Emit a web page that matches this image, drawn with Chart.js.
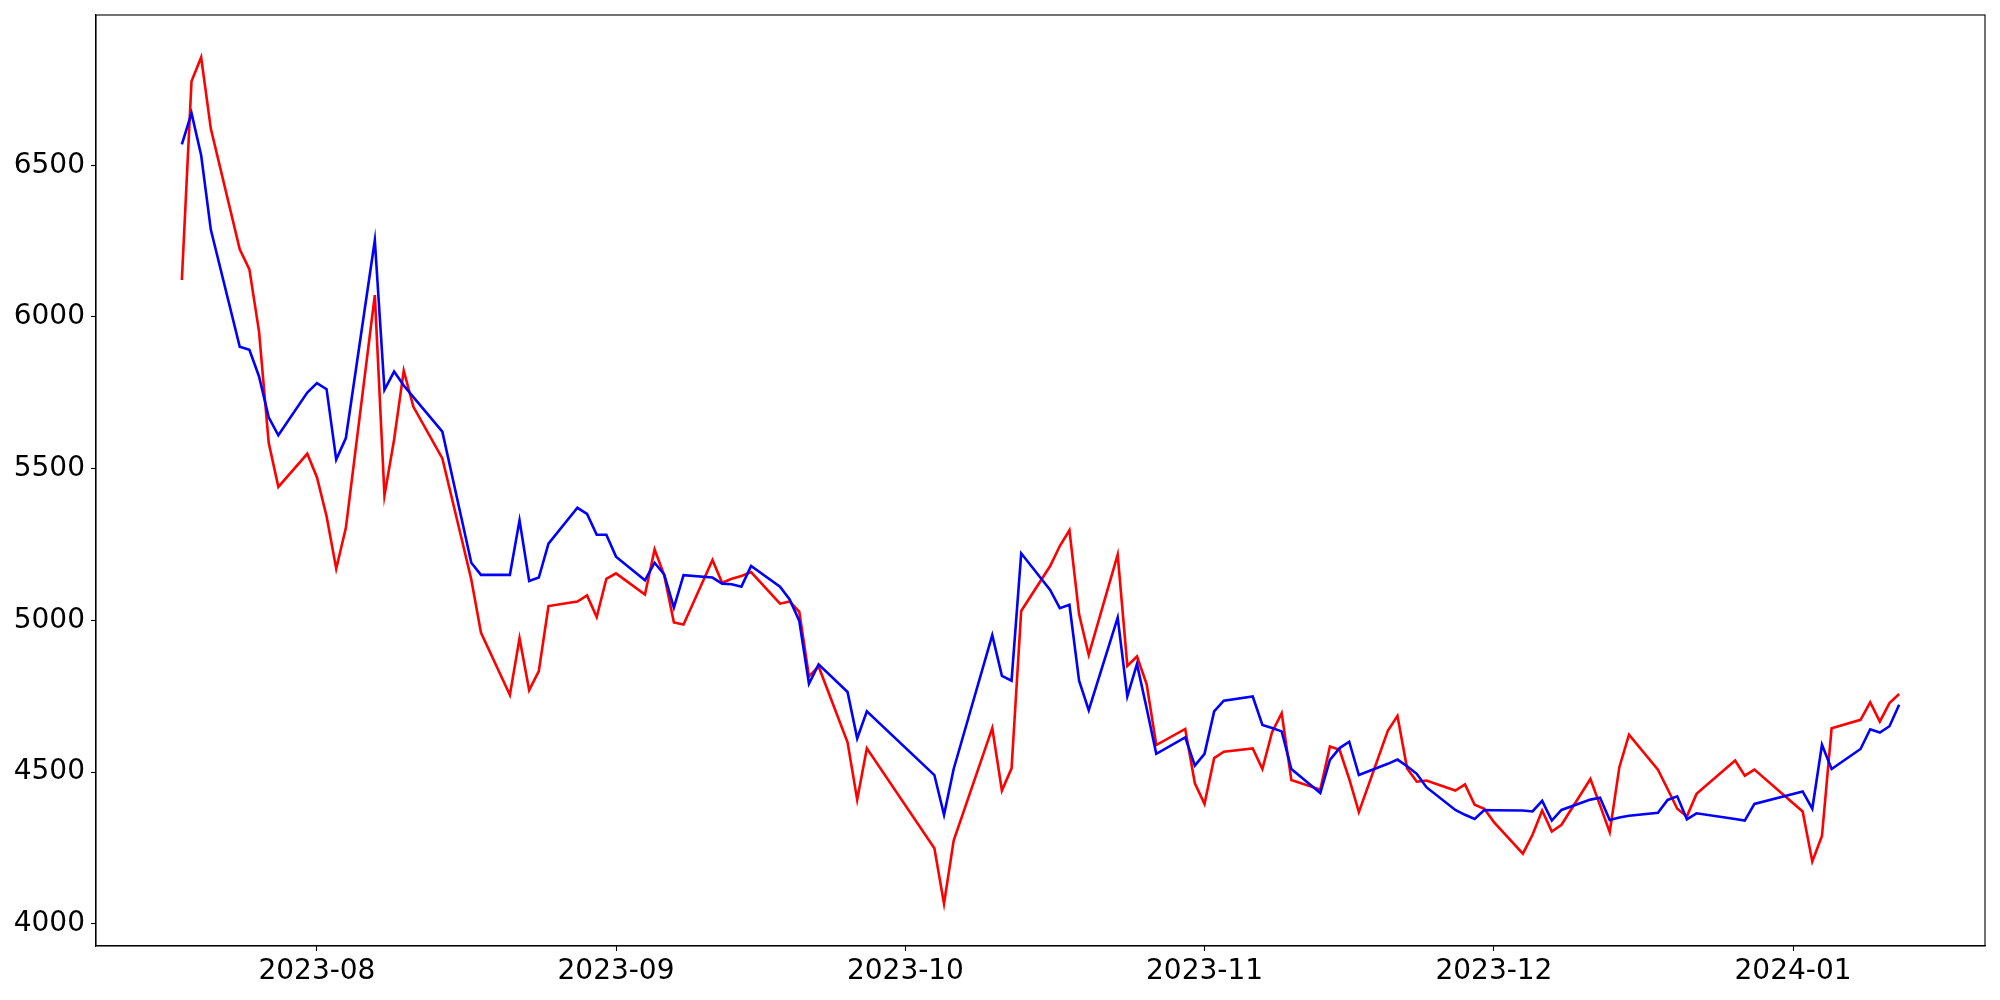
<!DOCTYPE html>
<html>
<head>
<meta charset="utf-8">
<script src="https://cdn.jsdelivr.net/npm/chart.js@4.4.0/dist/chart.umd.min.js"></script>
<style>
  body { margin: 0; background: #fff; }
  #wrap { width: 2000px; height: 1000px; }
</style>
</head>
<body>
<div id="wrap"><canvas id="myChart" width="2000" height="1000"></canvas></div>
<script>
// trading days (Korean market calendar)
const dates = [
  '2023-07-18','2023-07-19','2023-07-20','2023-07-21','2023-07-24','2023-07-25','2023-07-26','2023-07-27','2023-07-28','2023-07-31',
  '2023-08-01','2023-08-02','2023-08-03','2023-08-04','2023-08-07','2023-08-08','2023-08-09','2023-08-10','2023-08-11','2023-08-14',
  '2023-08-16','2023-08-17','2023-08-18','2023-08-21','2023-08-22','2023-08-23','2023-08-24','2023-08-25','2023-08-28','2023-08-29',
  '2023-08-30','2023-08-31','2023-09-01','2023-09-04','2023-09-05','2023-09-06','2023-09-07','2023-09-08','2023-09-11','2023-09-12',
  '2023-09-13','2023-09-14','2023-09-15','2023-09-18','2023-09-19','2023-09-20','2023-09-21','2023-09-22','2023-09-25','2023-09-26',
  '2023-09-27','2023-10-04','2023-10-05','2023-10-06','2023-10-10','2023-10-11','2023-10-12','2023-10-13','2023-10-16','2023-10-17',
  '2023-10-18','2023-10-19','2023-10-20','2023-10-23','2023-10-24','2023-10-25','2023-10-26','2023-10-27','2023-10-30','2023-10-31',
  '2023-11-01','2023-11-02','2023-11-03','2023-11-06','2023-11-07','2023-11-08','2023-11-09','2023-11-10','2023-11-13','2023-11-14',
  '2023-11-15','2023-11-16','2023-11-17','2023-11-20','2023-11-21','2023-11-22','2023-11-23','2023-11-24','2023-11-27','2023-11-28',
  '2023-11-29','2023-11-30','2023-12-01','2023-12-04','2023-12-05','2023-12-06','2023-12-07','2023-12-08','2023-12-11','2023-12-12',
  '2023-12-13','2023-12-14','2023-12-15','2023-12-18','2023-12-19','2023-12-20','2023-12-21','2023-12-22','2023-12-26','2023-12-27',
  '2023-12-28','2024-01-02','2024-01-03','2024-01-04','2024-01-05','2024-01-08','2024-01-09','2024-01-10','2024-01-11','2024-01-12'
];

const redValues = [
  6122, 6777, 6856, 6621, 6223, 6157, 5952, 5585, 5440, 5549,
  5472, 5343, 5170, 5305, 6072, 5411, 5596, 5823, 5704, 5534,
  5268, 5135, 4960, 4754, 4941, 4770, 4833, 5047, 5062, 5082,
  5011, 5137, 5155, 5085, 5234, 5148, 4993, 4986, 5199, 5124,
  5137, 5146, 5159, 5055, 5062, 5028, 4815, 4848, 4598, 4409,
  4578, 4249, 4066, 4274, 4645, 4439, 4512, 5031, 5179, 5245,
  5297, 5020, 4886, 5217, 4850, 4881, 4790, 4589, 4642, 4463,
  4395, 4546, 4567, 4578, 4510, 4631, 4694, 4474, 4442, 4584,
  4573, 4477, 4368, 4636, 4685, 4512, 4468, 4472, 4439, 4459,
  4392, 4379, 4335, 4231, 4293, 4373, 4304, 4326, 4477, 4390,
  4302, 4516, 4623, 4508, 4444, 4379, 4354, 4428, 4538, 4488,
  4508, 4370, 4205, 4289, 4644, 4672, 4730, 4666, 4727, 4757
];

const blueValues = [
  6569, 6672, 6533, 6288, 5902, 5892, 5804, 5669, 5610, 5751,
  5782, 5762, 5530, 5601, 6253, 5760, 5820, 5774, 5736, 5622,
  5334, 5190, 5150, 5150, 5330, 5130, 5141, 5253, 5371, 5351,
  5282, 5282, 5210, 5132, 5190, 5151, 5042, 5149, 5141, 5121,
  5119, 5111, 5179, 5111, 5069, 4998, 4791, 4855, 4764, 4611,
  4700, 4490, 4359, 4510, 4951, 4817, 4801, 5221, 5100, 5040,
  5051, 4801, 4704, 5009, 4749, 4856, 4710, 4560, 4614, 4521,
  4560, 4700, 4735, 4749, 4655, 4645, 4634, 4510, 4431, 4540,
  4579, 4600, 4490, 4527, 4541, 4519, 4494, 4450, 4375, 4359,
  4345, 4375, 4374, 4373, 4370, 4405, 4340, 4375, 4409, 4415,
  4342, 4350, 4356, 4366, 4408, 4420, 4344, 4364, 4345, 4340,
  4395, 4436, 4379, 4590, 4510, 4576, 4641, 4630, 4651, 4722
];

const xTickLabels = ['2023-08', '2023-09', '2023-10', '2023-11', '2023-12', '2024-01'];
const yTickValues = [4000, 4500, 5000, 5500, 6000, 6500];

function toDay(s) {
  let p = s.split('-').map(Number);
  return Date.UTC(p[0], p[1] - 1, p[2] || 1) / 86400000;
}
function fromDay(d) {
  let dt = new Date(Math.round(d) * 86400000);
  return dt.getUTCFullYear() + '-' + String(dt.getUTCMonth() + 1).padStart(2, '0');
}

let xs = dates.map(toDay);
let xPad = (xs[xs.length - 1] - xs[0]) * 0.05;
let allY = redValues.concat(blueValues);
let yMin = Math.min(...allY), yMax = Math.max(...allY);
let yPad = (yMax - yMin) * 0.05;

const frame = {
  id: 'frame',
  afterDraw(chart) {
    const a = chart.chartArea, c = chart.ctx;
    c.save();
    c.strokeStyle = '#000';
    c.lineWidth = 1.1;
    c.strokeRect(a.left, a.top, a.right - a.left, a.bottom - a.top);
    c.restore();
  }
};

const ctx = document.getElementById('myChart').getContext('2d');
const tickFont = { family: 'DejaVu Sans', size: 28 };

new Chart(ctx, {
  type: 'line',
  data: {
    datasets: [
      {
        label: 'blue',
        data: xs.map((x, i) => ({ x: x, y: blueValues[i] })),
        borderColor: '#0000ff',
        borderWidth: 2.6,
        pointRadius: 0,
        tension: 0,
        order: 0
      },
      {
        label: 'red',
        data: xs.map((x, i) => ({ x: x, y: redValues[i] })),
        borderColor: '#ff0000',
        borderWidth: 2.6,
        pointRadius: 0,
        tension: 0,
        order: 1
      }
    ]
  },
  options: {
    responsive: false,
    animation: false,
    layout: { padding: { left: 0, top: 15, right: 15, bottom: 0 } },
    plugins: { legend: { display: false }, tooltip: { enabled: false } },
    scales: {
      x: {
        type: 'linear',
        min: xs[0] - xPad,
        max: xs[xs.length - 1] + xPad,
        afterBuildTicks: (s) => { s.ticks = xTickLabels.map(t => ({ value: toDay(t) })); },
        afterFit: (s) => { s.height = 54; s.paddingLeft = 0; s.paddingRight = 0; },
        grid: { drawOnChartArea: false, drawTicks: true, tickLength: 5, tickColor: '#000', tickWidth: 1.1 },
        border: { display: true, color: '#000', width: 1.1 },
        ticks: {
          autoSkip: false, maxRotation: 0, color: '#000', font: tickFont, padding: 4,
          callback: (v) => fromDay(v)
        }
      },
      y: {
        min: yMin - yPad,
        max: yMax + yPad,
        afterBuildTicks: (s) => { s.ticks = yTickValues.map(v => ({ value: v })); },
        afterFit: (s) => { s.width = 96; s.paddingTop = 0; s.paddingBottom = 0; },
        grid: { drawOnChartArea: false, drawTicks: true, tickLength: 5, tickColor: '#000', tickWidth: 1.1 },
        border: { display: true, color: '#000', width: 1.1 },
        ticks: { color: '#000', font: tickFont, padding: 6, callback: (v) => String(v) }
      }
    }
  },
  plugins: [frame]
});
</script>
</body>
</html>
